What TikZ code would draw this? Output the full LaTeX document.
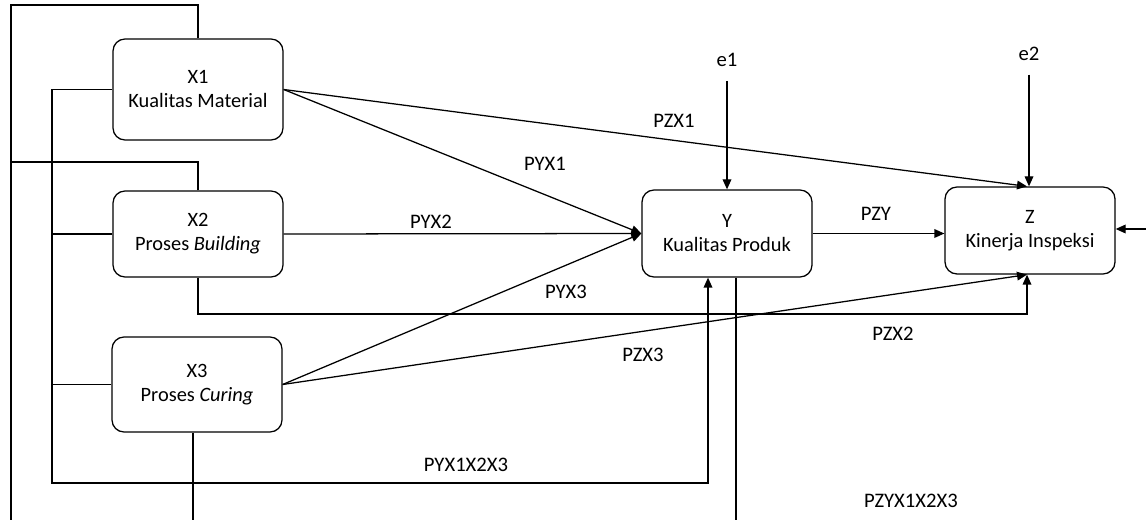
\documentclass[tikz,border=0pt]{standalone}
\usepackage{fontspec}
\setmainfont{Carlito}
\usetikzlibrary{arrows.meta,calc}
\begin{document}
\begin{tikzpicture}[x=0.75pt,y=-0.75pt, line width=0.95pt,
  box/.style={draw, rounded corners=9pt, align=center, inner sep=0pt,
    font=\fontsize{15.3}{18}\selectfont, minimum width=127.5pt},
  lbl/.style={inner sep=0pt, font=\fontsize{15.5}{18}\selectfont},
  arr/.style={-{Triangle[length=7.5pt,width=6.5pt]}}]
\useasboundingbox (0,0) rectangle (1146,520);
% boxes
\node[box, minimum height=75.75pt] (x1) at (198,89.5) {X1\\Kualitas Material};
\node[box, minimum height=64.5pt] (x2) at (198,234) {X2\\Proses \textit{Building}};
\node[box, minimum height=71.25pt] (x3) at (197,384.5) {X3\\Proses \textit{Curing}};
\node[box, minimum height=65.25pt] (y) at (727,233.5) {Y\\Kualitas Produk};
\node[box, minimum height=65.25pt] (z) at (1030,230.5) {Z\\Kinerja Inspeksi};
% error terms
\node[lbl] (e1) at (727,59.5) {e1};
\node[lbl] (e2) at (1029,54) {e2};
% helper coordinates
\coordinate (tl) at (11,5);
\coordinate (bl) at (11,520);
\coordinate (m2) at (11,162);
\coordinate (il) at (52,483);
\coordinate (ya) at ($(y.south)+(-19,0)$);
\coordinate (yd) at ($(y.south)+(9,0)$);
\coordinate (bot) at (0,520);
\coordinate (r314) at (0,314);
\coordinate (zt) at ($(z.north)+(-3,0)$);
\coordinate (zb) at ($(z.south)+(-3,0)$);
\coordinate (x3d) at ($(x3.south)+(-4,0)$);
\coordinate (rin) at (1146,229);
% outer loops
\draw (x1.north) |- (tl) -- (bl);
\draw (x2.north) |- (m2);
% inner loop to Y
\draw[arr] (x1.west) -| (il) -| (ya);
\draw (x2.west) -- (x2.west -| il);
\draw (x3.west) -- (x3.west -| il);
% downward lines
\draw (x3d) -- (x3d |- bot);
\draw (yd) -- (yd |- bot);
% X2 bottom to Z
\draw[arr] (x2.south) |- (zb |- r314) -- (zb);
% error arrows
\draw[arr] ([yshift=-10.5pt]e1.south) -- (y.north);
\draw[arr] ([yshift=-10pt]e2.south) -- (z.north -| e2);
\draw[arr] (rin) -- (rin -| z.east);
% direct paths
\draw[arr] (x1.east) -- (y.west);
\draw[arr] (x1.east) -- (zt);
\draw[arr] (x2.east) -- (y.west);
\draw[arr] (x3.east) -- (y.west);
\draw[arr] (x3.east) -- (zb);
\draw[arr] (y.east) -- (y.east -| z.west);
% labels
\node[lbl] (lpzx1) at (674,121) {PZX1};
\node[lbl] (lpyx1) at (545,164) {PYX1};
\node[lbl] (lpyx2) at (431,222) {PYX2};
\node[lbl] (lpyx3) at (566,292) {PYX3};
\node[lbl] (lpzy) at (876,214) {PZY};
\node[lbl] (lpzx2) at (893,334) {PZX2};
\node[lbl] (lpzx3) at (643,355) {PZX3};
\node[lbl] (lpyall) at (466,465) {PYX1X2X3};
\node[lbl] (lpzall) at (911,501) {PZYX1X2X3};
\end{tikzpicture}
\end{document}
